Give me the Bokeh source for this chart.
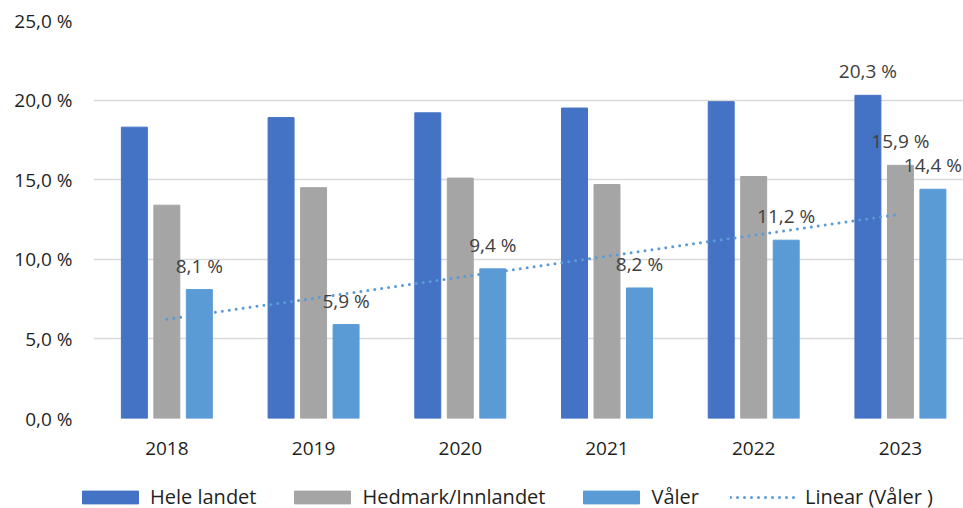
import numpy as np
from bokeh.plotting import figure
from bokeh.layouts import column
from bokeh.models import (ColumnDataSource, Range1d, FixedTicker, Legend, LegendItem)
from bokeh.core.properties import value
from bokeh.embed import file_html
from bokeh.resources import INLINE

# --- data -------------------------------------------------------------
years = ["2018", "2019", "2020", "2021", "2022", "2023"]
hele_landet = [18.3, 18.9, 19.2, 19.5, 19.9, 20.3]
hedmark_innlandet = [13.4, 14.5, 15.1, 14.7, 15.2, 15.9]
valer = [8.1, 5.9, 9.4, 8.2, 11.2, 14.4]
y_ticks = [0, 5, 10, 15, 20, 25]
y_tick_labels = ["0,0 %", "5,0 %", "10,0 %", "15,0 %", "20,0 %", "25,0 %"]
series_names = ["Hele landet", "Hedmark/Innlandet", "Våler", "Linear (Våler )"]
# data labels that are shown, by bar index
labelled_hele = [5]
labelled_hedmark = [5]
labelled_valer = [0, 1, 2, 3, 4, 5]

FONT = "Open Sans"
C_HELE = "#4472C4"
C_HED = "#A5A5A5"
C_VAL = "#5B9BD5"
TXT = "#1f1f1f"

def pct(v):
    return f"{v:.1f}".replace(".", ",") + " %"

centers = np.arange(len(years)) + 0.5
bar_w = 0.177
step = 0.2215

p = figure(width=963, height=464, output_backend="svg", toolbar_location=None,
           x_range=Range1d(0, 5.93), y_range=Range1d(0, 25),
           min_border_left=93, min_border_right=0, min_border_top=20,
           min_border_bottom=46)
p.background_fill_color = "white"
p.border_fill_color = "white"
p.outline_line_color = None

# bars
p.vbar(x=centers - step, top=hele_landet, width=bar_w, color=C_HELE)
p.vbar(x=centers, top=hedmark_innlandet, width=bar_w, color=C_HED)
p.vbar(x=centers + step, top=valer, width=bar_w, color=C_VAL)

# linear trend of Våler
xi = np.arange(1, len(valer) + 1)
slope, intercept = np.polyfit(xi, valer, 1)
trend = slope * xi + intercept
TREND_STYLE = dict(line_color=C_VAL, line_width=3, line_dash="0 7", line_cap="round")
p.line(x=centers, y=trend, **TREND_STYLE)

# data labels
lab_x, lab_y, lab_t = [], [], []
for i in labelled_hele:
    lab_x.append(centers[i] - step); lab_y.append(hele_landet[i]); lab_t.append(pct(hele_landet[i]))
for i in labelled_hedmark:
    lab_x.append(centers[i]); lab_y.append(hedmark_innlandet[i]); lab_t.append(pct(hedmark_innlandet[i]))
for i in labelled_valer:
    lab_x.append(centers[i] + step); lab_y.append(valer[i]); lab_t.append(pct(valer[i]))
src = ColumnDataSource(dict(x=lab_x, y=lab_y, t=lab_t))
p.text(x="x", y="y", text="t", source=src, text_font=value(FONT),
       text_font_size="19px", text_color="#404040", text_align="center",
       text_baseline="middle", y_offset=-24)

# axes
p.xaxis.ticker = FixedTicker(ticks=list(centers))
p.xaxis.major_label_overrides = {float(c): y for c, y in zip(centers, years)}
p.yaxis.ticker = FixedTicker(ticks=y_ticks)
p.yaxis.major_label_overrides = {t: l for t, l in zip(y_ticks, y_tick_labels)}
for ax in (p.xaxis, p.yaxis):
    ax.axis_line_color = None
    ax.major_tick_line_color = None
    ax.minor_tick_line_color = None
    ax.major_tick_out = 0
    ax.major_tick_in = 0
    ax.major_label_text_font = FONT
    ax.major_label_text_font_size = "19px"
    ax.major_label_text_color = TXT
p.xaxis.major_label_standoff = 23
p.yaxis.major_label_standoff = 21

p.xgrid.grid_line_color = None
p.ygrid.grid_line_color = "#D9D9D9"
p.ygrid.grid_line_width = 1.5

# legend strip underneath the chart; its swatch renderers are hidden so
# that only the legend draws them
lg = figure(width=963, height=44, output_backend="svg", toolbar_location=None,
            x_range=Range1d(0, 1), y_range=Range1d(0, 1),
            x_axis_type=None, y_axis_type=None,
            min_border_left=0, min_border_right=0, min_border_top=0, min_border_bottom=0)
lg.outline_line_color = None
lg.xgrid.grid_line_color = None
lg.ygrid.grid_line_color = None
g1 = lg.vbar(x=[0.5], top=[1], width=0.1, color=C_HELE, visible=False)
g2 = lg.vbar(x=[0.5], top=[1], width=0.1, color=C_HED, visible=False)
g3 = lg.vbar(x=[0.5], top=[1], width=0.1, color=C_VAL, visible=False)
g4 = lg.line(x=[0.2, 0.8], y=[0.5, 0.5], visible=False, **TREND_STYLE)

legend_x = -18
if hasattr(lg, "frame_align"):
    lg.frame_align = False
    legend_x = 75

legend = Legend(items=[LegendItem(label=n, renderers=[r])
                       for n, r in zip(series_names, [g1, g2, g3, g4])],
                orientation="horizontal", location=(legend_x, -2))
legend.border_line_color = None
legend.background_fill_alpha = 0
legend.padding = 0
legend.margin = 0
legend.spacing = 31
legend.glyph_width = 70
legend.glyph_height = 16
legend.label_height = 15
legend.label_standoff = 5
legend.label_text_font = FONT
legend.label_text_font_size = "20px"
legend.label_text_color = TXT
lg.add_layout(legend, "center")

open("out.html", "w").write(file_html(column(p, lg, spacing=0), INLINE))
